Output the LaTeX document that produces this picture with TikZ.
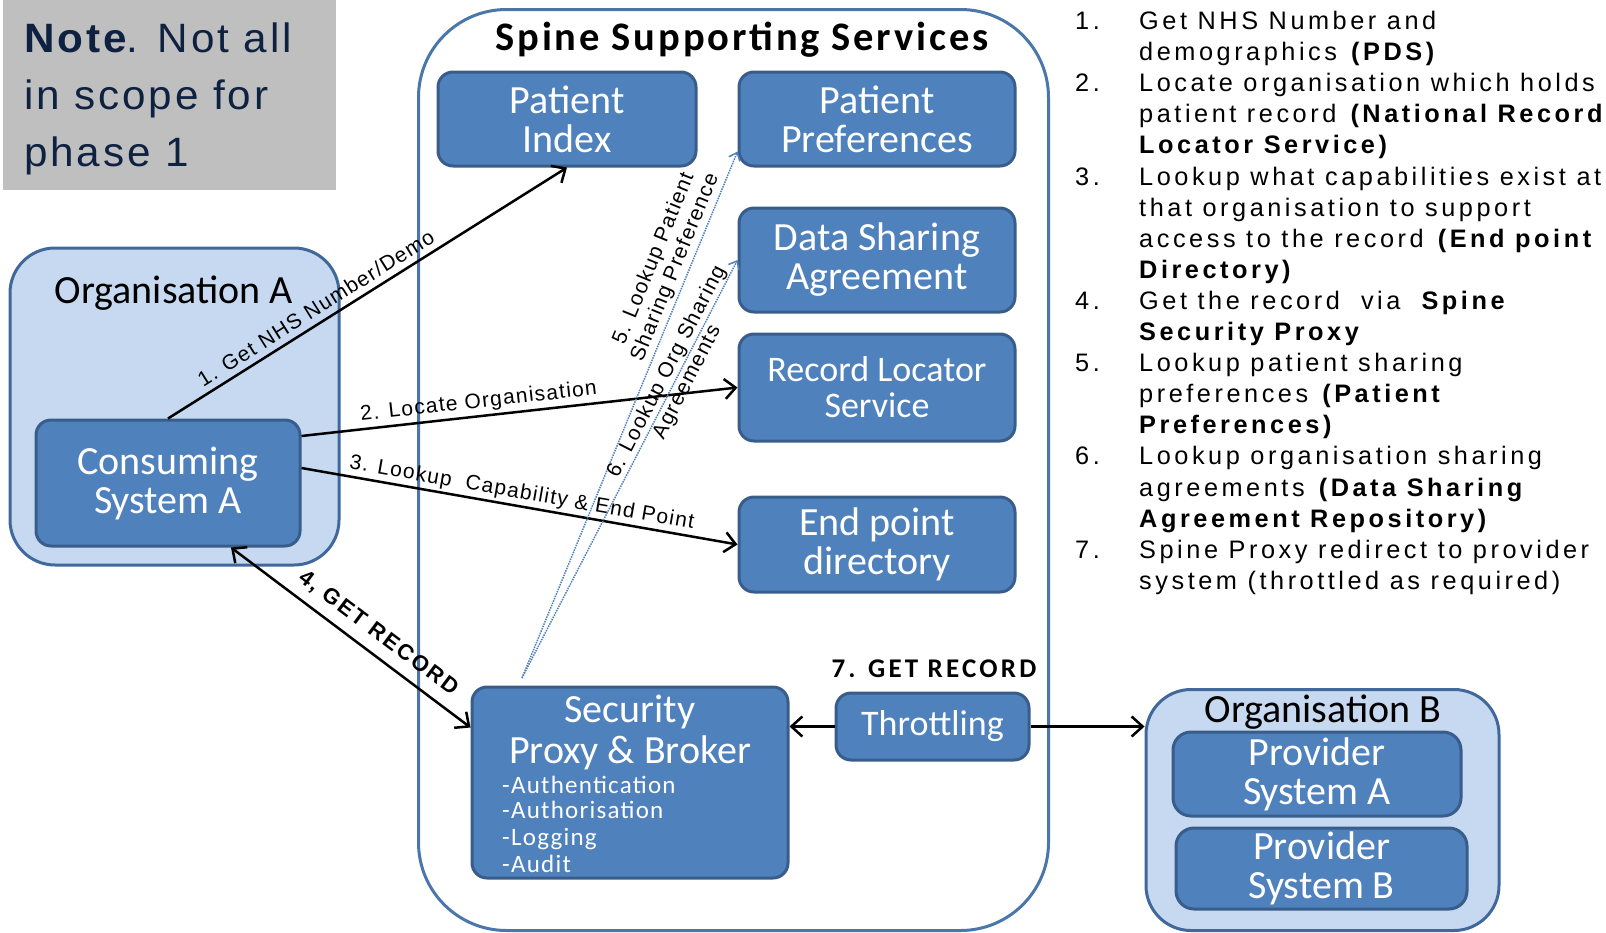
\documentclass[tikz,border=0pt]{standalone}
\usepackage{fontspec}
\setmainfont{Carlito}
\newfontfamily\listf{Liberation Sans}[LetterSpace=14]
\newfontfamily\labf{Liberation Sans}[LetterSpace=6]
\newfontfamily\notef{Liberation Sans}[LetterSpace=7, FakeStretch=1.03]
\newfontfamily\grf{Liberation Sans}[LetterSpace=10]
\newfontfamily\titf{Carlito}[LetterSpace=7]
\newfontfamily\subf{Carlito}[LetterSpace=5]
\newfontfamily\grcf{Carlito}[LetterSpace=12]
\usetikzlibrary{arrows.meta,calc}
\definecolor{boxfill}{HTML}{4F81BD}
\definecolor{boxdraw}{HTML}{385D8A}
\definecolor{orgfill}{HTML}{C6D9F1}
\definecolor{orgdraw}{HTML}{41689B}
\definecolor{spinedraw}{HTML}{4A76AA}
\definecolor{notefill}{HTML}{BFBFBF}
\definecolor{notetext}{HTML}{0F2140}
\definecolor{dotc}{HTML}{4F81BD}
\newcommand\LL[3]{\node[listt] (#1) at (1139,{29.5+#2*31.1}) {#3};}
\newcommand\LN[3]{\node[listt] (#1) at (1075,{29.5+#2*31.1}) {#3};}
\begin{document}
\begin{tikzpicture}[x=1pt,y=-1pt,
 bluebox/.style={draw=boxdraw, fill=boxfill, line width=3pt, rounded corners=15pt, text=white, align=center, inner sep=0pt, font=\fontsize{40}{39}\selectfont},
 orgbox/.style={draw=orgdraw, fill=orgfill, line width=3pt, rounded corners=45pt, inner sep=0pt},
 arr/.style={line width=2.5pt, -{Straight Barb[length=11pt,width=20pt]}},
 dotarr/.style={draw=dotc, line width=1.5pt, densely dotted, -{Straight Barb[length=7pt,width=12pt]}},
 lab/.style={font=\labf\fontsize{21}{23}\selectfont, inner sep=2pt},
 gr/.style={font=\grf\bfseries\fontsize{22}{22}\selectfont, inner sep=2pt},
 listt/.style={font=\listf\fontsize{25.3}{31}\selectfont, anchor=base west, inner sep=0pt},
 notet/.style={font=\notef\fontsize{41}{41}\selectfont, text=notetext, anchor=base west, inner sep=0pt},
 subt/.style={font=\subf\fontsize{25}{25}\selectfont, text=white, anchor=base west, inner sep=0pt},
 bigt/.style={font=\fontsize{40}{40}\selectfont, anchor=base, inner sep=0pt}
]
\useasboundingbox (0,0) rectangle (1606,932);

% note
\node[fill=notefill, minimum width=333, minimum height=190, anchor=north west, inner sep=0pt] (note) at (3,0) {};
\node[notet] (nt1) at (24,52) {\bfseries Note\mdseries. Not all};
\node[notet] (nt2) at (24,109) {in scope for};
\node[notet] (nt3) at (24,166) {phase 1};

% spine
\node[draw=spinedraw, line width=3pt, rounded corners=88pt, minimum width=630, minimum height=921, anchor=north west, inner sep=0pt] (spine) at (417,8) {};
\node[font=\titf\bfseries\fontsize{40.5}{40}\selectfont, anchor=base, inner sep=0pt] (title) at (742,50) {Spine Supporting Services};

\node[bluebox, minimum width=258, minimum height=94] (pi) at (567,119) {Patient\\Index};
\node[bluebox, minimum width=276, minimum height=94] (pp) at (877,119) {Patient\\Preferences};
\node[bluebox, minimum width=276, minimum height=104] (dsa) at (877,260) {Data Sharing\\Agreement};
\node[bluebox, font=\fontsize{36}{36}\selectfont, minimum width=276, minimum height=107] (rls) at (877,387.5) {Record Locator\\Service};
\node[bluebox, minimum width=276, minimum height=95] (epd) at (877,544.5) {End point\\directory};

\node[bluebox, minimum width=316, minimum height=191] (sec) at (630,782.5) {};
\node[bigt, text=white] (sec1) at (630,722) {Security};
\node[bigt, text=white] (sec2) at (630,763) {Proxy \& Broker};
\node[subt] (s1) at (502,793) {-Authentication};
\node[subt] (s2) at (502,818) {-Authorisation};
\node[subt] (s3) at (502,845) {-Logging};
\node[subt] (s4) at (502,872) {-Audit};

\node[bluebox, font=\fontsize{36}{36}\selectfont, minimum width=193, minimum height=67] (thr) at (932.5,726.5) {Throttling};
\node[font=\grcf\bfseries\fontsize{27}{27}\selectfont, anchor=base, inner sep=0pt] (get7) at (934,677) {7. GET RECORD};

% organisation A
\node[orgbox, minimum width=329, minimum height=317] (orgA) at (174.5,406.5) {};
\node[bigt] (orgAl) at (174,303) {Organisation A};
\node[bluebox, minimum width=264, minimum height=126] (cons) at (168,483) {Consuming\\System A};

% organisation B
\node[orgbox, minimum width=353, minimum height=241] (orgB) at (1322.5,810) {};
\node[bigt] (orgBl) at (1323,722) {Organisation B};
\node[bluebox, rounded corners=18pt, minimum width=288, minimum height=84] (pA) at (1317,774) {Provider\\System A};
\node[bluebox, rounded corners=18pt, minimum width=291, minimum height=81] (pB) at (1321.5,868.5) {Provider\\System B};

% connectors
\draw[arr] (cons.north) -- node[lab, above=4pt, sloped, pos=0.39] (l1) {1. Get NHS Number/Demo} (pi.south);
\draw[arr] ([yshift=47pt]cons.east) -- node[lab, above=1pt, sloped, pos=0.41] (l2) {2. Locate Organisation} (rls.west);
\draw[arr] ([yshift=15pt]cons.east) -- node[lab, above=0pt, sloped, pos=0.5] (l3) {3. Lookup\ \ Capability \& End Point} (epd.west);
\draw[line width=2.5pt, {Straight Barb[length=11pt,width=20pt]}-{Straight Barb[length=11pt,width=20pt]}] ([xshift=63pt]cons.south) -- node[gr, above=7pt, sloped, pos=0.565] (l4) {4, GET RECORD} ([yshift=55pt]sec.west);
\draw[arr] (thr.west) -- (thr.west -| sec.east);
\draw[arr] (thr.east) -- (thr.east -| orgB.west);

\coordinate (d0) at (522,678);
\draw[dotarr] (d0) -- node[lab, above=1pt, sloped, pos=0.77, align=center] (l5) {5. Lookup Patient\\Sharing Preference} ([yshift=16pt]pp.south west);
\draw[dotarr] (d0) -- node[lab, sloped, pos=0.72, align=center] (l6) {6. Lookup Org Sharing\\Agreements} (dsa.west);

% list
\LN{n1}{0}{1.}
\LN{n2}{2}{2.}
\LN{n3}{5}{3.}
\LN{n4}{9}{4.}
\LN{n5}{11}{5.}
\LN{n6}{14}{6.}
\LN{n7}{17}{7.}
\LL{t0}{0}{Get NHS Number and}
\LL{t1}{1}{demographics \textbf{(PDS)}}
\LL{t2}{2}{Locate organisation which holds}
\LL{t3}{3}{patient record \textbf{(National Record}}
\LL{t4}{4}{\textbf{Locator Service)}}
\LL{t5}{5}{Lookup what capabilities exist at}
\LL{t6}{6}{that organisation to support}
\LL{t7}{7}{access to the record \textbf{(End point}}
\LL{t8}{8}{\textbf{Directory)}}
\LL{t9}{9}{Get the record\ \ via\ \ \textbf{Spine}}
\LL{t10}{10}{\textbf{Security Proxy}}
\LL{t11}{11}{Lookup patient sharing}
\LL{t12}{12}{preferences \textbf{(Patient}}
\LL{t13}{13}{\textbf{Preferences)}}
\LL{t14}{14}{Lookup organisation sharing}
\LL{t15}{15}{agreements \textbf{(Data Sharing}}
\LL{t16}{16}{\textbf{Agreement Repository)}}
\LL{t17}{17}{Spine Proxy redirect to provider}
\LL{t18}{18}{system (throttled as required)}
\end{tikzpicture}
\end{document}
